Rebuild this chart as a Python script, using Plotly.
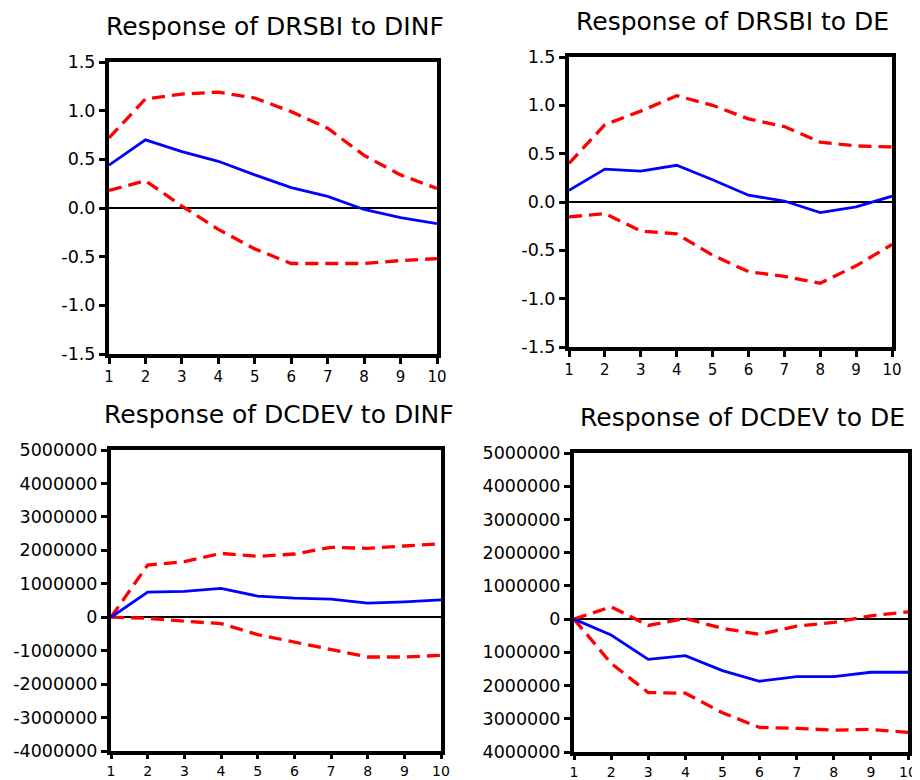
import plotly.graph_objects as go

periods = [1, 2, 3, 4, 5, 6, 7, 8, 9, 10]

titles = ["Response of DRSBI to DINF", "Response of DRSBI to DE",
          "Response of DCDEV to DINF", "Response of DCDEV to DE"]

# Panel 1: DRSBI to DINF
p1_resp = [0.44, 0.70, 0.58, 0.48, 0.34, 0.21, 0.12, -0.015, -0.10, -0.16]
p1_upper = [0.72, 1.12, 1.17, 1.19, 1.13, 0.99, 0.82, 0.54, 0.34, 0.20]
p1_lower = [0.18, 0.28, 0.02, -0.22, -0.42, -0.57, -0.57, -0.57, -0.54, -0.52]

# Panel 2: DRSBI to DE
p2_resp = [0.12, 0.34, 0.32, 0.38, 0.23, 0.07, 0.01, -0.11, -0.05, 0.06]
p2_upper = [0.40, 0.80, 0.94, 1.10, 1.00, 0.86, 0.78, 0.62, 0.58, 0.57]
p2_lower = [-0.155, -0.12, -0.30, -0.33, -0.55, -0.72, -0.77, -0.84, -0.66, -0.44]

# Panel 3: DCDEV to DINF
p3_resp = [0, 750000, 770000, 860000, 630000, 570000, 540000, 420000, 460000, 520000]
p3_upper = [0, 1560000, 1660000, 1910000, 1820000, 1890000, 2090000, 2060000, 2130000, 2200000]
p3_lower = [0, -30000, -120000, -190000, -520000, -740000, -980000, -1190000, -1190000, -1140000]

# Panel 4: DCDEV to DE
p4_resp = [0, -480000, -1210000, -1100000, -1550000, -1870000, -1730000, -1730000, -1600000, -1600000]
p4_upper = [0, 370000, -190000, 20000, -280000, -460000, -210000, -100000, 100000, 220000]
p4_lower = [0, -1330000, -2210000, -2230000, -2820000, -3260000, -3290000, -3340000, -3320000, -3410000]

small_ticks = [-1.5, -1.0, -0.5, 0.0, 0.5, 1.0, 1.5]
small_text = ["-1.5", "-1.0", "-0.5", "0.0", "0.5", "1.0", "1.5"]
big_ticks = [-4000000, -3000000, -2000000, -1000000, 0, 1000000, 2000000, 3000000, 4000000, 5000000]
big_text = ["-4000000", "-3000000", "-2000000", "-1000000", "0",
            "1000000", "2000000", "3000000", "4000000", "5000000"]
# lower-right panel: minus signs are cut off in the reference picture
big_text_cut = ["4000000", "3000000", "2000000", "1000000", "0",
                "1000000", "2000000", "3000000", "4000000", "5000000"]

# figure size; the page body adds an 8px margin around the plot
W, H, OFF = 912, 772, 8


def fx(px):
    return (px - OFF) / W


def fy(py):
    return 1 - (py - OFF) / H


panels = [
    dict(resp=p1_resp, up=p1_upper, lo=p1_lower, yr=[-1.5, 1.5], tv=small_ticks, tt=small_text,
         xd=[fx(109), fx(437)], yd=[fy(354), fy(62)], title_xy=(275, 27), xtl=6, xfs=15),
    dict(resp=p2_resp, up=p2_upper, lo=p2_lower, yr=[-1.5, 1.5], tv=small_ticks, tt=small_text,
         xd=[fx(569), fx(892)], yd=[fy(347), fy(57)], title_xy=(732, 22), xtl=6, xfs=15),
    dict(resp=p3_resp, up=p3_upper, lo=p3_lower, yr=[-4000000, 5000000], tv=big_ticks, tt=big_text,
         xd=[fx(111), fx(441)], yd=[fy(751), fy(450)], title_xy=(279, 414), xtl=4, xfs=14),
    dict(resp=p4_resp, up=p4_upper, lo=p4_lower, yr=[-4000000, 5000000], tv=big_ticks, tt=big_text_cut,
         xd=[fx(574), fx(908)], yd=[fy(752), fy(453)], title_xy=(742, 417), xtl=4, xfs=14),
]

FONT = "DejaVu Sans"
fig = go.Figure()
annotations = []
layout_axes = {}
for i, p in enumerate(panels, start=1):
    xa = "x" if i == 1 else f"x{i}"
    ya = "y" if i == 1 else f"y{i}"
    for series, color, dash, w in [(p["up"], "#ff0000", "13px,7px", 3.3),
                                   (p["lo"], "#ff0000", "13px,7px", 3.3),
                                   (p["resp"], "#0000ff", "solid", 2.8)]:
        fig.add_trace(go.Scatter(x=periods, y=series, mode="lines", xaxis=xa, yaxis=ya,
                                 line=dict(color=color, width=w, dash=dash),
                                 showlegend=False, hoverinfo="skip"))
    xkey = "xaxis" if i == 1 else f"xaxis{i}"
    ykey = "yaxis" if i == 1 else f"yaxis{i}"
    layout_axes[xkey] = dict(domain=p["xd"], range=[1, 10], anchor=ya, automargin=False,
                             tickvals=periods, ticktext=[str(v) for v in periods],
                             showline=True, linewidth=4, linecolor="black", mirror=True,
                             ticks="outside", ticklen=p["xtl"], tickwidth=2.5, tickcolor="black",
                             showgrid=False, zeroline=False,
                             tickfont=dict(family=FONT, size=p["xfs"], color="black"))
    layout_axes[ykey] = dict(domain=p["yd"], range=p["yr"], anchor=xa, automargin=False,
                             tickvals=p["tv"], ticktext=p["tt"],
                             showline=True, linewidth=4, linecolor="black", mirror=True,
                             ticks="outside", ticklen=6, tickwidth=2.5, tickcolor="black",
                             showgrid=False, zeroline=True, zerolinecolor="black", zerolinewidth=2,
                             tickfont=dict(family=FONT, size=17.5, color="black"))
    tx, ty = p["title_xy"]
    annotations.append(dict(text=titles[i-1], x=fx(tx), y=fy(ty), xref="paper", yref="paper",
                            xanchor="center", yanchor="middle", showarrow=False,
                            font=dict(family=FONT, size=25, color="black")))

fig.update_layout(width=W, height=H, margin=dict(l=0, r=0, t=0, b=0, autoexpand=False),
                  paper_bgcolor="white", plot_bgcolor="white",
                  annotations=annotations, **layout_axes)
fig.write_html("out.html")
